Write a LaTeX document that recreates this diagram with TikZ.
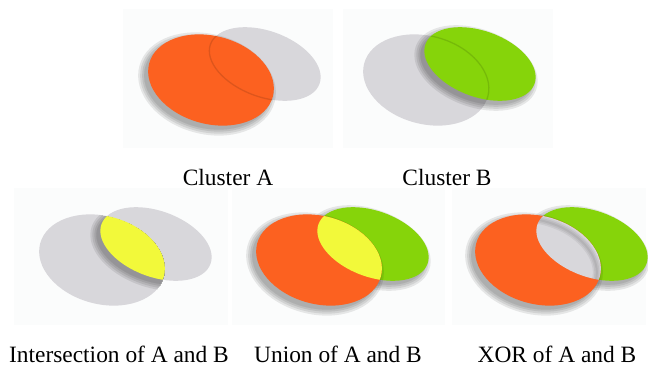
\documentclass[tikz,border=0pt]{standalone}
\usepackage{fontspec}
\setmainfont{Liberation Serif}

\definecolor{clusterorange}{RGB}{252,97,32}
\definecolor{clustergreen}{RGB}{134,212,10}
\definecolor{clusteryellow}{RGB}{242,249,58}
\definecolor{ghostgray}{RGB}{216,215,219}
\definecolor{panelbg}{RGB}{251,252,252}

% the two clusters, in panel coordinates
\newcommand{\ovalA}{[rotate around={-15:(87,70)}] (87,70) ellipse [x radius=64pt, y radius=44pt]}
\newcommand{\ovalB}{[rotate around={-20:(141,54)}] (141,54) ellipse [x radius=58pt, y radius=33pt]}

% soft shadow under a shape, down and to the left
\newcommand{\softshadow}[1]{%
  \foreach \w in {12,8,4,0.1}{
    \begin{scope}[transparency group, opacity=.085]
      \filldraw[black, line width=\w pt, shift={(-4,4)}] #1;
    \end{scope}}}

\tikzset{
  panel/.style={fill=panelbg},
  ghost/.style={fill=ghostgray},
  seam/.style={line width=1.3pt, opacity=.3},
  caption/.style={anchor=base, font=\fontsize{23.4}{28}\selectfont}
}

\begin{document}
\begin{tikzpicture}[x=1pt, y=-1pt]
  \useasboundingbox (0,0) rectangle (648,367);
  \fill[white] (0,0) rectangle (648,367);

  % panel backgrounds
  \fill[panel] (123,9) rectangle (333,148);
  \fill[panel] (343,9) rectangle (553,148);
  \fill[panel] (14,188) rectangle (228,325);
  \fill[panel] (232,188) rectangle (445,325);
  \fill[panel] (452,188) rectangle (646,325);

  % Cluster A
  \begin{scope}[shift={(124,10)}]
    \fill[ghost] \ovalB;
    \softshadow{\ovalA}
    \fill[clusterorange] \ovalA;
    \begin{scope}
      \clip \ovalA;
      \draw[seam, clusterorange!60!black] \ovalB;
    \end{scope}
  \end{scope}

  % Cluster B
  \begin{scope}[shift={(339,10)}]
    \fill[ghost] \ovalA;
    \softshadow{\ovalB}
    \fill[clustergreen] \ovalB;
    \begin{scope}
      \clip \ovalB;
      \draw[seam, clustergreen!60!black] \ovalA;
    \end{scope}
  \end{scope}

  % Intersection
  \begin{scope}[shift={(15,190)}]
    \fill[ghost] \ovalA;
    \fill[ghost] \ovalB;
    \begin{scope}
      \clip \ovalA;
      \softshadow{\ovalB}
      \fill[clusteryellow] \ovalB;
    \end{scope}
  \end{scope}

  % Union
  \begin{scope}[shift={(232,190)}]
    \softshadow{\ovalB}
    \fill[clustergreen] \ovalB;
    \softshadow{\ovalA}
    \fill[clusterorange] \ovalA;
    \begin{scope}
      \clip \ovalA;
      \fill[clusteryellow] \ovalB;
    \end{scope}
  \end{scope}

  % XOR
  \begin{scope}[shift={(451,190)}]
    \softshadow{\ovalB}
    \fill[clustergreen] \ovalB;
    \softshadow{\ovalA}
    \fill[clusterorange] \ovalA;
    \begin{scope}
      \clip \ovalA;
      \clip \ovalB;
      \fill[ghostgray] \ovalB;
      % green casts onto the hole
      \foreach \w in {8,5,2}
        \draw[black, line width=\w pt, opacity=.06, shift={(-4,4)}] \ovalA;
    \end{scope}
  \end{scope}

  % captions
  \node[caption] (capA) at (228,185) {Cluster A};
  \node[caption] (capB) at (447,185) {Cluster B};
  \node[caption] (capAnd) at (119,362) {Intersection of A and B};
  \node[caption] (capOr) at (338,362) {Union of A and B};
  \node[caption] (capXor) at (557,362) {XOR of A and B};
\end{tikzpicture}
\end{document}
